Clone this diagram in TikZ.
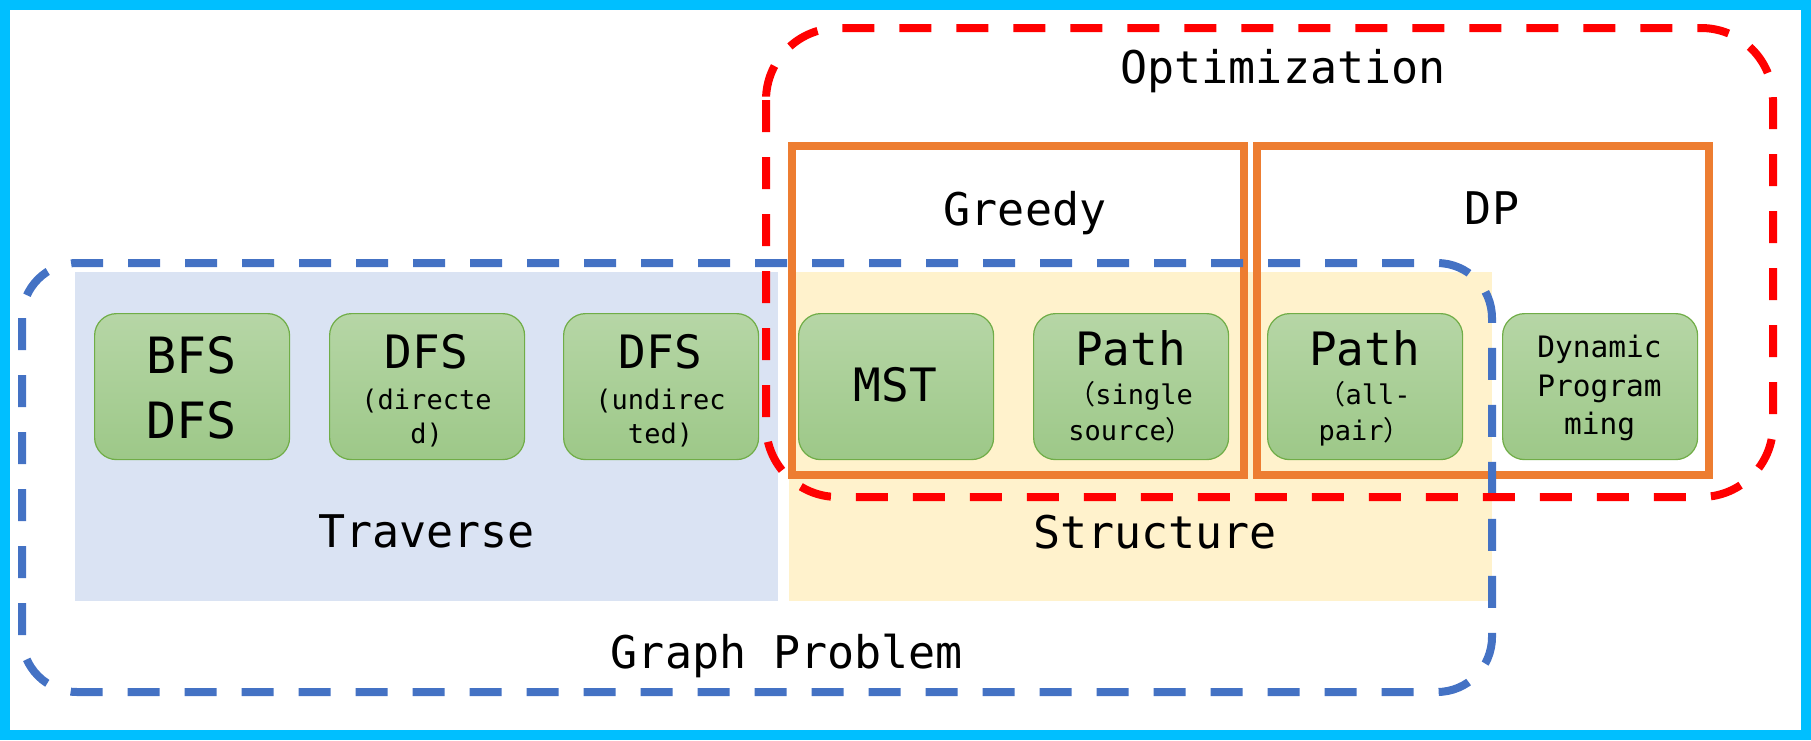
\documentclass[tikz,border=0pt]{standalone}
\usepackage{fontspec}
\setmonofont{DejaVu Sans Mono}
\newfontfamily\cjkfont{Noto Sans CJK SC}
\usepackage{tikz}
\definecolor{frame}{RGB}{0,191,255}
\definecolor{graphblue}{RGB}{68,114,196}
\definecolor{optred}{RGB}{255,0,0}
\definecolor{techorange}{RGB}{237,125,49}
\definecolor{travfill}{RGB}{218,227,243}
\definecolor{structfill}{RGB}{255,242,204}
\definecolor{algtop}{RGB}{182,214,166}
\definecolor{algbottom}{RGB}{157,200,136}
\definecolor{algline}{RGB}{112,173,71}
\tikzset{
	group/.style={draw=#1, line width=8pt, dash pattern=on 32pt off 25pt},
	technique/.style={draw=techorange, line width=8pt},
	algbox/.style={draw=algline, line width=1.2pt, rounded corners=22pt,
			top color=algtop, bottom color=algbottom,
			minimum width=195pt, minimum height=146pt, anchor=north west},
	title/.style={font=\ttfamily\fontsize{45}{54}\selectfont, anchor=base, inner sep=0pt},
	big/.style={font=\ttfamily\fontsize{46}{55}\selectfont, anchor=base, inner sep=0pt},
	huge/.style={font=\ttfamily\fontsize{50}{60}\selectfont, anchor=base, inner sep=0pt},
	small/.style={font=\ttfamily\fontsize{27}{32}\selectfont, anchor=base, inner sep=0pt},
	medium/.style={font=\ttfamily\fontsize{29.5}{35}\selectfont, anchor=base, inner sep=0pt}
}

\begin{document}
\begin{tikzpicture}[x=1pt,y=-1pt]
	\useasboundingbox (0,0) rectangle (1811,740);
	\draw[frame, line width=10pt] (5,5) rectangle (1806,735);
	\fill[travfill] (75,272) rectangle (778,601);
	\fill[structfill] (789,272) rectangle (1492,601);
	\foreach \name/\x in {bfs/94, dfsdir/329, dfsundir/563, mst/798,
			pathsingle/1033, pathall/1267, dynprog/1502}
	\node[algbox] (\name) at (\x,313) {};
	\draw[technique] (791.5,146) rectangle (1244,475);
	\draw[technique] (1257,146) rectangle (1709,475);
	\draw[group=graphblue, rounded corners=55pt] (22,263) rectangle (1492,692);
	\draw[group=optred, rounded corners=72pt] (766,28) rectangle (1773,497);
	\node[title] (optim) at (1283,83) {Optimization};
	\node[title] (greedy) at (1025,225) {Greedy};
	\node[title] (dp) at (1492,224) {DP};
	\node[title] (traverse) at (426.5,547) {Traverse};
	\node[title] (structure) at (1155,548) {Structure};
	\node[title] (graphprob) at (787,668) {Graph Problem};
	\node[huge] (bfs1) at (191.5,373) {BFS};
	\node[huge] (bfs2) at (191.5,438) {DFS};
	\node[big] (dfsdir1) at (426.5,368) {DFS};
	\node[small] (dfsdir2) at (426.5,409) {(directe};
	\node[small] (dfsdir3) at (426.5,443) {d)};
	\node[big] (dfsundir1) at (660.5,368) {DFS};
	\node[small] (dfsundir2) at (660.5,409) {(undirec};
	\node[small] (dfsundir3) at (660.5,443) {ted)};
	\node[big] (mst1) at (895.5,401) {MST};
	\node[big] (pathsingle1) at (1130.5,365) {Path};
	\node[small] (pathsingle2) at (1130.5,404) {{\cjkfont （}single};
	\node[small] (pathsingle3) at (1130.5,440) {source{\cjkfont ）}};
	\node[big] (pathall1) at (1364.5,365) {Path};
	\node[small] (pathall2) at (1364.5,404) {{\cjkfont （}all-};
	\node[small] (pathall3) at (1364.5,440) {pair{\cjkfont ）}};
	\node[medium] (dynprog1) at (1599.5,357) {Dynamic};
	\node[medium] (dynprog2) at (1599.5,396) {Program};
	\node[medium] (dynprog3) at (1599.5,434) {ming};
\end{tikzpicture}
\end{document}
